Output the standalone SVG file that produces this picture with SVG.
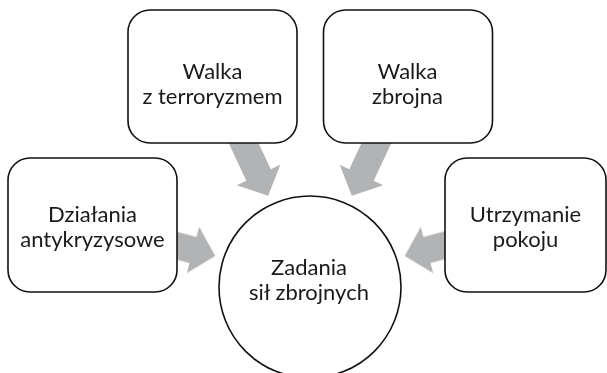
<svg xmlns="http://www.w3.org/2000/svg" xmlns:xlink="http://www.w3.org/1999/xlink" width="607" height="373" viewBox="0 0 607 373">
<style>
.box{fill:#fff;stroke:#111;stroke-width:1.6}
.arrow{fill:#b2b3b5}
text{font-family:Lato,"Open Sans","Liberation Sans",sans-serif;font-size:22px;fill:#1a1a1a;text-anchor:middle}
</style>
<defs>
<filter id="soft" x="-20%" y="-20%" width="140%" height="140%"><feGaussianBlur stdDeviation="0.7"/></filter>
<path id="arr" d="M -50,-13.5 L 0,-13.5 L 0,-24 L 23,0 L 0,24 L 0,13.5 L -50,13.5 Z"/>
</defs>
<rect width="607" height="373" fill="#fff"/>
<g id="connectors" class="arrow" filter="url(#soft)">
<use xlink:href="#arr" href="#arr" transform="translate(258.5,175) rotate(65)"/>
<use xlink:href="#arr" href="#arr" transform="translate(361.5,175) rotate(115)"/>
<use xlink:href="#arr" href="#arr" transform="translate(193,250) rotate(15)"/>
<use xlink:href="#arr" href="#arr" transform="translate(427,250) rotate(165)"/>
</g>
<g id="walka-terroryzm">
<rect class="box" x="128" y="10" width="169" height="133" rx="22"/>
<text x="212.5" y="79">Walka</text>
<text x="212.5" y="104">z terroryzmem</text>
</g>
<g id="walka-zbrojna">
<rect class="box" x="323.5" y="10" width="169" height="133" rx="22"/>
<text x="407.5" y="79">Walka</text>
<text x="407.5" y="104">zbrojna</text>
</g>
<g id="dzialania">
<rect class="box" x="8" y="158" width="169" height="134" rx="22"/>
<text x="92.5" y="222">Działania</text>
<text x="92.5" y="247">antykryzysowe</text>
</g>
<g id="utrzymanie">
<rect class="box" x="445" y="158" width="161" height="134" rx="22"/>
<text x="525.5" y="222">Utrzymanie</text>
<text x="525.5" y="247">pokoju</text>
</g>
<g id="zadania">
<circle class="box" cx="310" cy="287" r="91"/>
<text x="309" y="275">Zadania</text>
<text x="309" y="300">sił zbrojnych</text>
</g>
</svg>
